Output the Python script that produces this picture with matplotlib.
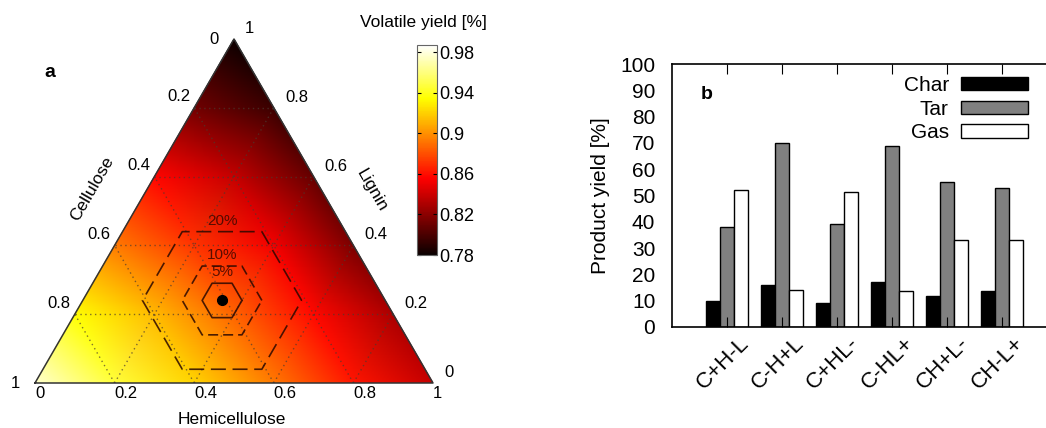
import numpy as np
import matplotlib.pyplot as plt
import matplotlib.tri as mtri
from matplotlib.transforms import ScaledTranslation

plt.rcParams['font.family'] = ['Liberation Sans', 'DejaVu Sans']

# panel a: volatile yield read at the ternary grid nodes (lignin, hemicellulose)
node_lignin = [0, 0, 0, 0, 0, 0,
               0.2, 0.2, 0.2, 0.2, 0.2,
               0.4, 0.4, 0.4, 0.4,
               0.6, 0.6, 0.6,
               0.8, 0.8,
               1.0]
node_hemi = [0, 0.2, 0.4, 0.6, 0.8, 1.0,
             0, 0.2, 0.4, 0.6, 0.8,
             0, 0.2, 0.4, 0.6,
             0, 0.2, 0.4,
             0, 0.2,
             0]
node_yield = [0.977, 0.946, 0.921, 0.893, 0.862, 0.838,
              0.935, 0.913, 0.886, 0.858, 0.830,
              0.894, 0.872, 0.852, 0.815,
              0.857, 0.838, 0.808,
              0.812, 0.795,
              0.780]

base_hemi, base_lignin = 0.35, 0.24
hex_sizes = [0.05, 0.10, 0.20]
hex_labels = ['5%', '10%', '20%']
hex_styles = ['-', (0, (6, 3)), (0, (9, 4))]

grid_vals = [0.0, 0.2, 0.4, 0.6, 0.8, 1.0]
grid_text = ['0', '0.2', '0.4', '0.6', '0.8', '1']
cbar_ticks = [0.78, 0.82, 0.86, 0.90, 0.94, 0.98]

# panel b: product yields
cases = ['C+H-L', 'C-H+L', 'C+HL-', 'C-HL+', 'CH+L-', 'CH-L+']
char = [10, 16, 9.2, 17, 11.8, 13.8]
tar = [38, 70, 39, 69, 55, 53]
gas = [52, 14, 51.3, 13.7, 33, 33]

S3 = np.sqrt(3) / 2


def tern(h, l):
    h = np.asarray(h, float)
    l = np.asarray(l, float)
    return h + l / 2, l * S3


fig = plt.figure(figsize=(10.46, 4.28), dpi=100)
px = 1 / 100  # inches per pixel

# ---------------- ternary ----------------
axt = fig.add_axes([35 / 1046, 45 / 428, 398 / 1046, 344 / 428])
axt.set_xlim(0, 1)
axt.set_ylim(0, S3)
axt.axis('off')

nx, ny = tern(node_hemi, node_lignin)
tri = mtri.Triangulation(nx, ny)
field = axt.tripcolor(tri, node_yield, shading='gouraud', cmap='hot',
                      vmin=0.78, vmax=0.987)

# dotted grid
for v in grid_vals[1:-1]:
    for h0, l0, h1, l1 in [(0, v, 1 - v, v), (v, 0, v, 1 - v), (1 - v, 0, 0, 1 - v)]:
        xs, ys = tern([h0, h1], [l0, l1])
        axt.plot(xs, ys, ls=(0, (1, 2.5)), color='#4a3a30', lw=1.0, alpha=0.7)

ox, oy = tern([0, 1, 0, 0], [0, 0, 1, 0])
axt.plot(ox, oy, color='#333333', lw=1.1, clip_on=False)

# uncertainty hexagons
x0, y0 = tern(base_hemi, base_lignin)
for d, lab, ls in zip(hex_sizes, hex_labels, hex_styles):
    dh = np.array([d, 0, -d, -d, 0, d, d])
    dl = np.array([0, d, d, 0, -d, -d, 0])
    hx, hy = tern(base_hemi + dh, base_lignin + dl)
    axt.plot(hx, hy, ls=ls, color='#2a0800', lw=1.2, alpha=0.85)
    axt.annotate(lab, xy=(x0, y0 + d * S3), xytext=(0, 8), textcoords='offset points',
                 ha='center', va='center', fontsize=11, color='#3c0800', alpha=0.85)
axt.plot(x0, y0, 'o', color='k', ms=7)

# tick numbers on the three sides
for v, s in zip(grid_vals, grid_text):
    axt.annotate(s, xy=tern(v, 0), xytext=(0, -7.5), textcoords='offset points',
                 ha='left', va='center', fontsize=12)
    axt.annotate(s, xy=tern(1 - v, v), xytext=(8, 7.5), textcoords='offset points',
                 ha='left', va='center', fontsize=12)
    if 0 < v < 1:
        off = (-3, 8)
    else:
        off = (-11, 0)
    axt.annotate(s, xy=tern(0, 1 - v), xytext=off, textcoords='offset points',
                 ha='right', va='center', fontsize=12)

axt.text(0.495, -0.093, 'Hemicellulose', ha='center', va='center', fontsize=12.5)
axt.text(0.143, 0.49, 'Cellulose', ha='center', va='center', fontsize=12.5, rotation=60)
axt.text(0.847, 0.485, 'Lignin', ha='center', va='center', fontsize=12.5, rotation=-60)
axt.text(0.038, 0.781, 'a', ha='center', va='center', fontsize=14, fontweight='bold')

cax = fig.add_axes([417 / 1046, 173 / 428, 20 / 1046, 210 / 428])
cb = fig.colorbar(field, cax=cax, ticks=cbar_ticks)
cb.set_ticklabels([f'{t:g}' for t in cbar_ticks])
cb.outline.set_edgecolor('#666666')
cax.tick_params(direction='in', length=3, left=True, right=True, labelsize=13, pad=1.5)
fig.text(423 / 1046, 1 - 23 / 428, 'Volatile yield [%]', ha='center', va='center', fontsize=12.5)

# ---------------- bar chart ----------------
axb = fig.add_axes([672 / 1046, 101 / 428, 385 / 1046, 263 / 428])
x = np.arange(1, len(cases) + 1)
w = 0.25
axb.bar(x - w, char, w, color='black', edgecolor='black', lw=1, label='Char')
axb.bar(x, tar, w, color='#808080', edgecolor='black', lw=1, label='Tar')
axb.bar(x + w, gas, w, color='white', edgecolor='black', lw=1, label='Gas')
axb.set_xlim(0, 7)
axb.set_ylim(0, 100)
axb.set_yticks(np.arange(0, 101, 10))
axb.set_xticks(x)
axb.set_xticklabels(cases, rotation=45, ha='right', va='top')
axb.tick_params(axis='x', direction='in', length=7, top=True, labelsize=16, pad=4)
axb.tick_params(axis='y', length=0, labelsize=15, pad=12)
for t in axb.xaxis.get_major_ticks():
    t.label1.set_transform(t.label1.get_transform() + ScaledTranslation(26 * px, 0, fig.dpi_scale_trans))
for sp in axb.spines.values():
    sp.set_linewidth(1.2)
axb.set_ylabel('Product yield [%]', fontsize=15, labelpad=7)
axb.text(0.091, 0.885, 'b', transform=axb.transAxes, fontsize=14, fontweight='bold',
         ha='center', va='center')
axb.legend(loc='upper right', bbox_to_anchor=(1028 / 1046, 1 - 76 / 428),
           bbox_transform=fig.transFigure, frameon=False, markerfirst=False,
           fontsize=15, handlelength=3.2, handleheight=0.62, handletextpad=0.6,
           labelspacing=0.22, borderpad=0, borderaxespad=0)

fig.savefig('out.png', dpi=100)
